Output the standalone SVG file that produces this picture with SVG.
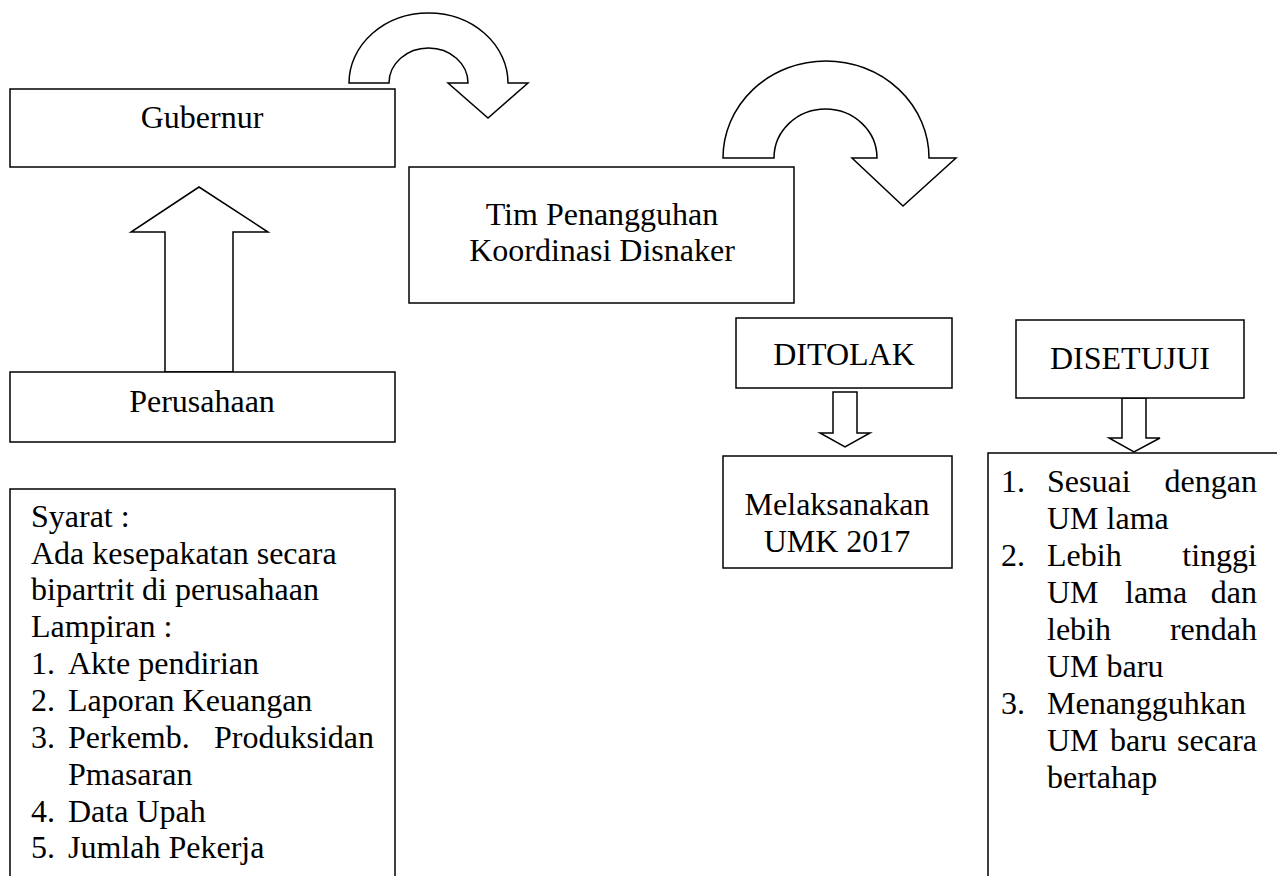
<svg xmlns="http://www.w3.org/2000/svg" width="1277" height="876" viewBox="0 0 1277 876">
<style>
.box{fill:#fff;stroke:#000;stroke-width:1.5}
.arr{fill:#fff;stroke:#000;stroke-width:1.5;stroke-linejoin:miter}
text{font-family:"Liberation Serif","Times New Roman",serif;font-size:32px;fill:#000}
.c{text-anchor:middle}
.e{text-anchor:end}
</style>
<rect width="1277" height="876" fill="#fff"/>
<g id="connectors">
<path class="arr" d="M349,83 A79.5,70 0 0 1 508,83 L528,83 L488,118 L448,83 L468,83 A39.5,35 0 0 0 389,83 Z"/>
<path class="arr" d="M723,158 A103,97 0 0 1 929,158 L956,158 L903,206 L852,158 L877,158 A51.5,49 0 0 0 774,158 Z"/>
<polygon class="arr" points="165,372 165,232 131,232 199,187 268,232 233,232 233,372"/>
<polygon class="arr" points="833,392 857,392 857,433 870,433 845,447 820,433 833,433"/>
<polygon class="arr" points="1122,398 1146,398 1146,438 1160,438 1134,452 1109,438 1122,438"/>
</g>
<g id="gubernur">
<rect class="box" x="10" y="89" width="385" height="78"/>
<text class="c" x="202" y="128">Gubernur</text>
</g>
<g id="tim">
<rect class="box" x="409" y="167" width="385" height="136"/>
<text class="c" x="602" y="225">Tim Penangguhan</text>
<text class="c" x="602" y="261">Koordinasi Disnaker</text>
</g>
<g id="perusahaan">
<rect class="box" x="10" y="372" width="385" height="70"/>
<text class="c" x="202" y="412">Perusahaan</text>
</g>
<g id="ditolak">
<rect class="box" x="736" y="318" width="216" height="70"/>
<text class="c" x="844" y="365">DITOLAK</text>
</g>
<g id="disetujui">
<rect class="box" x="1016" y="320" width="228" height="78"/>
<text class="c" x="1130" y="369">DISETUJUI</text>
</g>
<g id="melaksanakan">
<rect class="box" x="723" y="456" width="229" height="112"/>
<text class="c" x="837" y="515">Melaksanakan</text>
<text class="c" x="837" y="552">UMK 2017</text>
</g>
<g id="syarat">
<rect class="box" x="10" y="489" width="385" height="420"/>
<text x="31" y="527">Syarat :</text>
<text x="31" y="564">Ada kesepakatan secara</text>
<text x="31" y="600">bipartrit di perusahaan</text>
<text x="31" y="637">Lampiran :</text>
<text x="31" y="674">1.</text><text x="68" y="674">Akte pendirian</text>
<text x="31" y="711">2.</text><text x="68" y="711">Laporan Keuangan</text>
<text x="31" y="748">3.</text><text x="68" y="748">Perkemb.</text><text class="e" x="374" y="748">Produksidan</text>
<text x="68" y="785">Pmasaran</text>
<text x="31" y="822">4.</text><text x="68" y="822">Data Upah</text>
<text x="31" y="858">5.</text><text x="68" y="858">Jumlah Pekerja</text>
</g>
<g id="hasil">
<rect class="box" x="988" y="453" width="320" height="460"/>
<text x="1001" y="492">1.</text><text x="1047" y="492">Sesuai</text><text class="e" x="1257" y="492">dengan</text>
<text x="1047" y="529">UM lama</text>
<text x="1001" y="566">2.</text><text x="1047" y="566">Lebih</text><text class="e" x="1257" y="566">tinggi</text>
<text x="1047" y="603">UM</text><text x="1125" y="603">lama</text><text class="e" x="1257" y="603">dan</text>
<text x="1047" y="640">lebih</text><text class="e" x="1257" y="640">rendah</text>
<text x="1047" y="677">UM baru</text>
<text x="1001" y="714">3.</text><text x="1047" y="714">Menangguhkan</text>
<text x="1047" y="751">UM</text><text x="1110" y="751">baru</text><text class="e" x="1257" y="751">secara</text>
<text x="1047" y="788">bertahap</text>
</g>
</svg>
